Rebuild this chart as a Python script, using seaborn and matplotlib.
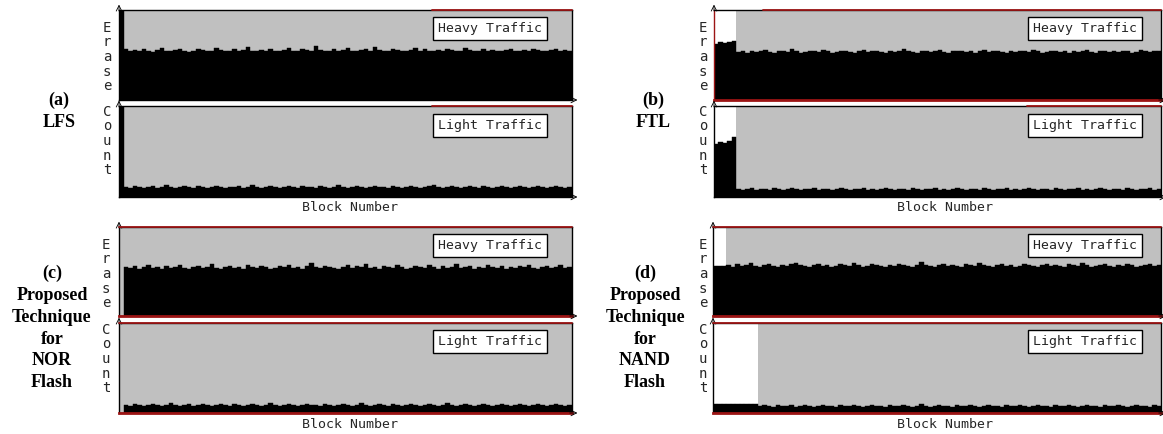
import numpy as np
import matplotlib.pyplot as plt
import seaborn as sns

# erase count per block (0-100 scale)
heavy_a = [100, 57, 55, 56, 54, 57, 55, 53, 56, 58, 55, 54, 56, 57, 55, 53, 55, 57, 56, 54,
           55, 58, 56, 54, 55, 57, 55, 56, 59, 55, 54, 56, 55, 57, 54, 55, 56, 58, 55, 54,
           57, 56, 55, 60, 56, 54, 55, 57, 55, 56, 58, 55, 54, 56, 57, 55, 59, 56, 54, 55,
           57, 56, 55, 54, 56, 58, 55, 57, 54, 55, 56, 55, 57, 56, 54, 55, 58, 56, 55, 54,
           57, 55, 56, 55, 54, 56, 57, 55, 54, 56, 55, 57, 56, 54, 55, 56, 57, 55, 56, 55]
light_a = [100, 11, 10, 12, 11, 10, 11, 12, 10, 11, 13, 11, 10, 11, 12, 11, 10, 12, 11, 10,
           11, 12, 11, 10, 11, 11, 12, 10, 11, 13, 11, 10, 11, 12, 11, 10, 11, 12, 11, 10,
           12, 11, 11, 10, 12, 11, 10, 11, 13, 11, 10, 11, 12, 11, 10, 11, 12, 11, 11, 10,
           12, 11, 10, 11, 12, 11, 10, 11, 12, 13, 11, 10, 11, 12, 11, 10, 11, 12, 11, 10,
           12, 11, 10, 11, 12, 11, 10, 11, 12, 11, 10, 11, 12, 11, 10, 11, 12, 11, 10, 11]
heavy_b = [62, 64, 63, 65, 66, 53, 54, 52, 55, 53, 54, 56, 53, 52, 54, 55, 53, 57, 54, 52,
           53, 55, 54, 53, 56, 54, 52, 53, 55, 54, 53, 52, 54, 56, 53, 54, 55, 53, 52, 54,
           53, 55, 57, 54, 53, 52, 54, 55, 53, 54, 56, 53, 52, 54, 55, 54, 53, 55, 52, 54,
           56, 53, 54, 55, 53, 52, 54, 53, 55, 54, 53, 56, 54, 52, 53, 55, 54, 53, 54, 52,
           55, 53, 54, 56, 53, 52, 54, 55, 53, 54, 53, 55, 54, 52, 53, 56, 54, 53, 54, 55]
light_b = [58, 60, 59, 61, 66, 9, 8, 9, 10, 8, 9, 9, 8, 10, 9, 8, 9, 10, 9, 8,
           9, 9, 10, 8, 9, 9, 8, 9, 10, 9, 8, 9, 9, 10, 8, 9, 8, 9, 10, 9,
           8, 9, 9, 8, 10, 9, 8, 9, 9, 10, 8, 9, 8, 9, 10, 9, 8, 9, 9, 8,
           10, 9, 8, 9, 9, 10, 8, 9, 8, 9, 10, 9, 8, 9, 9, 8, 10, 9, 8, 9,
           9, 10, 8, 9, 8, 9, 10, 9, 8, 9, 9, 8, 10, 9, 8, 9, 9, 10, 8, 9]
heavy_c = [0, 55, 54, 56, 53, 55, 57, 54, 55, 53, 56, 54, 55, 57, 54, 53, 55, 56, 54, 55,
           58, 54, 53, 55, 56, 54, 55, 53, 57, 55, 54, 56, 55, 53, 54, 56, 55, 57, 54, 55,
           53, 56, 59, 55, 54, 56, 55, 54, 53, 55, 57, 54, 56, 55, 58, 54, 55, 53, 56, 55,
           54, 57, 55, 53, 54, 56, 55, 54, 57, 55, 53, 56, 54, 55, 58, 54, 55, 56, 53, 55,
           54, 57, 55, 54, 56, 53, 55, 54, 56, 55, 57, 54, 53, 55, 56, 54, 55, 57, 54, 55]
light_c = [0, 9, 8, 10, 9, 8, 9, 10, 9, 8, 9, 11, 9, 8, 9, 10, 8, 9, 10, 9,
           8, 9, 10, 9, 8, 10, 9, 8, 9, 10, 9, 8, 9, 11, 9, 8, 9, 10, 9, 8,
           9, 10, 9, 9, 8, 10, 9, 8, 9, 10, 9, 8, 9, 11, 9, 8, 9, 10, 9, 8,
           10, 9, 8, 9, 10, 9, 8, 9, 10, 9, 8, 9, 11, 9, 8, 9, 10, 9, 8, 9,
           10, 9, 8, 9, 10, 9, 8, 9, 10, 9, 8, 9, 10, 9, 8, 9, 10, 9, 8, 9]
heavy_d = [56, 56, 56, 57, 55, 58, 56, 57, 59, 56, 55, 57, 58, 56, 55, 57, 56, 58, 60, 57,
           56, 55, 57, 58, 56, 57, 55, 56, 58, 57, 56, 59, 57, 55, 56, 58, 57, 56, 55, 57,
           56, 58, 57, 56, 55, 57, 61, 57, 56, 55, 57, 58, 56, 57, 56, 55, 58, 57, 56, 59,
           57, 56, 55, 57, 58, 56, 57, 55, 56, 58, 57, 56, 55, 57, 58, 56, 57, 56, 55, 58,
           57, 56, 59, 57, 55, 56, 57, 58, 56, 55, 57, 56, 58, 57, 55, 56, 57, 58, 56, 57]
light_d = [10, 10, 10, 10, 10, 10, 10, 10, 10, 10, 8, 9, 8, 7, 9, 8, 8, 9, 7, 8,
           9, 8, 7, 8, 9, 8, 8, 7, 9, 8, 8, 9, 8, 7, 8, 9, 8, 8, 7, 9,
           8, 8, 9, 8, 7, 8, 10, 8, 7, 8, 9, 8, 8, 7, 9, 8, 8, 9, 8, 7,
           8, 9, 8, 8, 7, 9, 8, 8, 9, 8, 7, 8, 9, 8, 8, 7, 9, 8, 8, 9,
           8, 7, 8, 9, 8, 8, 7, 9, 8, 8, 9, 8, 7, 8, 9, 8, 8, 7, 9, 8]

# first block of the gray (measured) region
gray_start = {"a": (0, 0), "b": (5, 5), "c": (0, 0), "d": (3, 10)}
panel_labels = {"a": "(a)\nLFS", "b": "(b)\nFTL",
                "c": "(c)\nProposed\nTechnique\nfor\nNOR\nFlash",
                "d": "(d)\nProposed\nTechnique\nfor\nNAND\nFlash"}

W, H = 1163, 434
RED = "#9c1414"
GRAY = "#c0c0c0"
MONO = "DejaVu Sans Mono"
SERIF = "Liberation Serif"

sns.set_style("white")
fig = plt.figure(figsize=(W / 100, H / 100), dpi=100)


def add_ax(x0, y0, x1, y1):
    return fig.add_axes([x0 / W, 1 - y1 / H, (x1 - x0) / W, (y1 - y0) / H])


def draw(ax, vals, gs, label, box_x, top_red=None, bottom_red=False, left_red=False):
    n = len(vals)
    x = np.arange(n)
    ax.set_facecolor("white")
    ax.axvspan(gs - 0.5, n - 0.5, color=GRAY, lw=0, zorder=0)
    sns.barplot(x=x, y=vals, native_scale=True, width=1, color="black",
                edgecolor="black", linewidth=0.3, errorbar=None, ax=ax, zorder=2)
    ax.set_xlim(-0.5, n - 0.5)
    ax.set_ylim(0, 100)
    ax.set_xticks([])
    ax.set_yticks([])
    ax.set_xlabel("")
    ax.set_ylabel("")
    for s in ax.spines.values():
        s.set_visible(True)
        s.set_color("black")
        s.set_linewidth(1)
    if top_red is not None:
        ax.axhline(100, xmin=top_red, xmax=1, color=RED, lw=1.3, clip_on=False, zorder=5)
    if bottom_red:
        ax.spines["bottom"].set_color(RED)
        ax.spines["bottom"].set_linewidth(2)
    if left_red:
        ax.spines["left"].set_color(RED)
    ax.text(box_x, 0.79, label, transform=ax.transAxes, ha="center", va="center",
            family=MONO, fontsize=9.5, zorder=6,
            bbox=dict(boxstyle="square,pad=0.38", fc="white", ec="black", lw=1))
    # small arrow heads at the axis ends
    ax.annotate("", xy=(0, 1.06), xytext=(0, 0.99), xycoords="axes fraction",
                arrowprops=dict(arrowstyle="->", lw=0.6, color="black",
                                shrinkA=0, shrinkB=0), annotation_clip=False)
    ax.annotate("", xy=(1.012, 0), xytext=(0.995, 0), xycoords="axes fraction",
                arrowprops=dict(arrowstyle="->", lw=0.6, color="black",
                                shrinkA=0, shrinkB=0), annotation_clip=False)


panels = [
    # key, heavy, light, x0, x1, top axes y, bottom axes y, label pos, letter x, letter centers, block label pos
    ("a", heavy_a, light_a, 119, 572, (10, 100), (106, 197), (59, 111), 107, (57, 141), (350, 208)),
    ("b", heavy_b, light_b, 714, 1161, (10, 100), (106, 197), (653, 111), 703, (57, 141), (945, 208)),
    ("c", heavy_c, light_c, 119, 572, (227, 316), (323, 413), (52, 328), 106, (274, 359), (350, 425)),
    ("d", heavy_d, light_d, 713, 1161, (227, 316), (323, 413), (645, 328), 703, (274, 359), (945, 425)),
]

red_style = {
    "a": [dict(top_red=0.69), dict(top_red=0.69)],
    "b": [dict(top_red=0.11, bottom_red=True, left_red=True), dict(top_red=0.70)],
    "c": [dict(top_red=0.0, bottom_red=True), dict(top_red=0.0, bottom_red=True)],
    "d": [dict(top_red=0.0, bottom_red=True), dict(top_red=0.0, bottom_red=True)],
}

for key, heavy, light, x0, x1, ytop, ybot, lab, lx, lcent, bn in panels:
    box_x = 0.82 if x1 - x0 > 450 else 0.83
    ax_h = add_ax(x0, ytop[0], x1, ytop[1])
    ax_l = add_ax(x0, ybot[0], x1, ybot[1])
    draw(ax_h, heavy, gray_start[key][0], "Heavy Traffic", box_x, **red_style[key][0])
    draw(ax_l, light, gray_start[key][1], "Light Traffic", box_x, **red_style[key][1])

    fig.text(lab[0] / W, 1 - lab[1] / H, panel_labels[key], ha="center", va="center",
             family=SERIF, fontweight="bold", fontsize=13, linespacing=1.37, color="black")
    for word, yc in zip(("Erase", "Count"), lcent):
        for i, ch in enumerate(word):
            yy = yc + (i - 2) * 14.7
            fig.text(lx / W, 1 - yy / H, ch, ha="center", va="center",
                     family=MONO, fontsize=10)
    fig.text(bn[0] / W, 1 - bn[1] / H, "Block Number", ha="center", va="center",
             family=MONO, fontsize=9.5)

fig.savefig("out.png", dpi=100, facecolor="white")
